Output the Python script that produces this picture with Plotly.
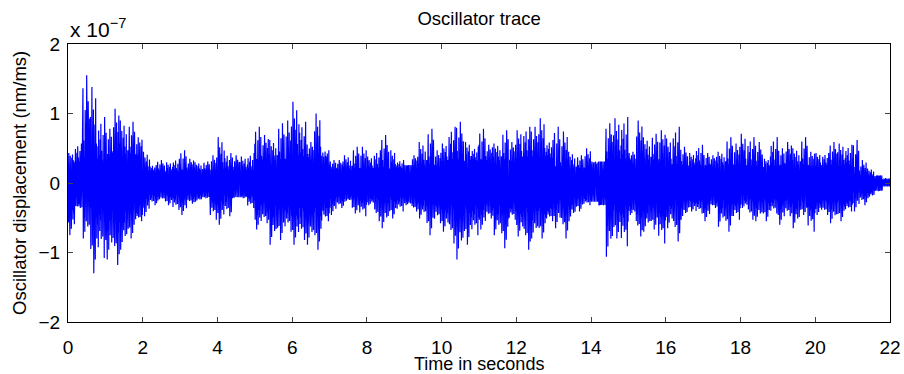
import numpy as np
import plotly.graph_objects as go

# Oscillator displacement trace, values in units of 1e-7 nm/ms.
# Each 0.2 s window is described by its highest and lowest excursion
# and by the half-width of the dense core of the trace.
window_start = np.arange(110) * 0.2  # seconds

upper_peak = [
    0.43, 0.57, 1.55, 1.38, 0.95, 0.78, 1.07, 0.90, 0.88, 0.66,
    0.45, 0.26, 0.33, 0.30, 0.35, 0.47, 0.35, 0.30, 0.31, 0.40,
    0.66, 0.43, 0.40, 0.38, 0.43, 0.81, 0.69, 0.62, 0.86, 0.90,
    1.17, 0.88, 0.59, 1.00, 0.47, 0.33, 0.33, 0.40, 0.52, 0.52,
    0.38, 0.47, 0.69, 0.47, 0.33, 0.26, 0.40, 0.59, 0.78, 0.47,
    0.57, 0.81, 0.88, 0.59, 0.52, 0.78, 0.55, 0.57, 0.76, 0.59,
    0.76, 0.81, 0.81, 0.93, 0.62, 0.81, 0.74, 0.45, 0.40, 0.50,
    0.31, 0.31, 0.86, 0.93, 0.95, 0.45, 0.90, 0.66, 0.71, 0.76,
    0.64, 0.81, 0.52, 0.43, 0.55, 0.43, 0.40, 0.45, 0.66, 0.57,
    0.71, 0.66, 0.59, 0.35, 0.66, 0.50, 0.59, 0.50, 0.66, 0.45,
    0.43, 0.43, 0.59, 0.57, 0.55, 0.62, 0.33, 0.21, 0.11, 0.07,
]

lower_peak = [
    -0.75, -0.36, -0.80, -1.30, -1.08, -1.10, -1.18, -0.96, -0.80, -0.55,
    -0.48, -0.32, -0.25, -0.32, -0.39, -0.46, -0.30, -0.27, -0.22, -0.53,
    -0.60, -0.48, -0.22, -0.22, -0.36, -0.67, -0.58, -0.89, -0.82, -0.70,
    -0.89, -0.82, -0.89, -0.96, -0.55, -0.46, -0.36, -0.27, -0.44, -0.48,
    -0.32, -0.55, -0.65, -0.51, -0.41, -0.32, -0.41, -0.51, -0.75, -0.58,
    -0.70, -0.87, -1.10, -0.89, -0.75, -0.67, -0.51, -0.75, -0.94, -0.53,
    -0.77, -0.96, -0.80, -0.80, -0.55, -0.65, -0.80, -0.55, -0.41, -0.32,
    -0.27, -0.32, -1.06, -0.80, -0.91, -0.46, -0.77, -0.70, -0.67, -0.87,
    -0.65, -0.84, -0.53, -0.41, -0.44, -0.55, -0.36, -0.63, -0.70, -0.53,
    -0.36, -0.53, -0.55, -0.55, -0.44, -0.60, -0.48, -0.65, -0.46, -0.70,
    -0.46, -0.46, -0.58, -0.55, -0.41, -0.41, -0.32, -0.22, -0.12, -0.05,
]

# half-width of the dense core, one value per second
core_width = [
    0.30, 0.40, 0.17, 0.18, 0.18, 0.32, 0.36, 0.20, 0.21, 0.25, 0.32,
    0.32, 0.36, 0.21, 0.32, 0.32, 0.25, 0.25, 0.23, 0.25, 0.25, 0.10,
]

x_ticks = list(range(0, 23, 2))
y_ticks = [-2, -1, 0, 1, 2]
y_tick_text = ["\u22122", "\u22121", "0", "1", "2"]

# how far each stroke reaches between the core edge (0) and the window peak (1)
reach_up = [0.0, 1.0, 0.35, 0.7, 0.15, 0.5, 0.85, 0.25, 0.05, 0.6]
reach_dn = [0.6, 0.1, 1.0, 0.4, 0.8, 0.2, 0.5, 0.3, 0.65, 0.0]

# expand every window into closely spaced samples
t_out, y_out = [], []
n_sub = len(reach_up)
step = 0.2 / (2 * n_sub)
for i, t0 in enumerate(window_start):
    u = upper_peak[i]
    l = lower_peak[i]
    c = min(core_width[int(t0)], u, -l)
    shift = (3 * i) % n_sub
    for k in range(n_sub):
        fu = reach_up[(k + shift) % n_sub]
        fd = reach_dn[(k + 2 * shift) % n_sub]
        t_out.append(t0 + (2 * k) * step)
        y_out.append(c + fu * (u - c))
        t_out.append(t0 + (2 * k + 1) * step)
        y_out.append(-(c + fd * (-l - c)))
t_out.append(22.0)
y_out.append(0.0)

fig = go.Figure()
fig.add_trace(go.Scatter(
    x=t_out, y=y_out, mode="lines",
    line=dict(color="#0000ff", width=1.2),
    hoverinfo="skip", showlegend=False,
))

family = "Liberation Sans, Arial, sans-serif"
tick_font = dict(family=family, size=19, color="black")
label_font = dict(family=family, size=18.5, color="black")
xlabel_font = dict(family=family, size=18, color="black")

fig.update_layout(
    width=904, height=374,
    margin=dict(l=68, r=14, t=44, b=52, autoexpand=False),
    paper_bgcolor="white", plot_bgcolor="white",
    font=dict(family=family, color="black"),
    title=dict(text="Oscillator trace", x=0.53, xanchor="center",
               y=1 - 19 / 374, yanchor="middle", font=label_font),
    xaxis=dict(
        range=[0, 22], tickvals=x_ticks, ticks="inside", ticklen=5, tickwidth=1,
        tickcolor="#444", showline=True, linecolor="black", linewidth=1, mirror="ticks",
        showgrid=False, zeroline=False, tickfont=tick_font, automargin=False,
        ticklabelstandoff=8,
    ),
    yaxis=dict(
        range=[-2, 2], tickvals=y_ticks, ticktext=y_tick_text, ticks="inside", ticklen=5,
        tickwidth=1, tickcolor="#444", showline=True, linecolor="black", linewidth=1,
        mirror="ticks", showgrid=False, zeroline=False, tickfont=tick_font,
        automargin=False, ticklabelstandoff=3,
    ),
    annotations=[
        dict(text="x 10<sup>\u22127</sup>", x=0, y=1, xref="paper", yref="paper",
             xanchor="left", yanchor="bottom", showarrow=False, yshift=1,
             font=dict(family=family, size=21)),
        dict(text="Time in seconds", x=0.5, y=-42 / 278, xref="paper", yref="paper",
             xanchor="center", yanchor="middle", showarrow=False, borderpad=0,
             font=xlabel_font),
        dict(text="Oscillator displacement (nm/ms)", x=-49 / 822, y=0.5,
             xref="paper", yref="paper", xanchor="center", yanchor="middle",
             textangle=-90, showarrow=False, font=label_font),
    ],
)

fig.write_html("out.html")
